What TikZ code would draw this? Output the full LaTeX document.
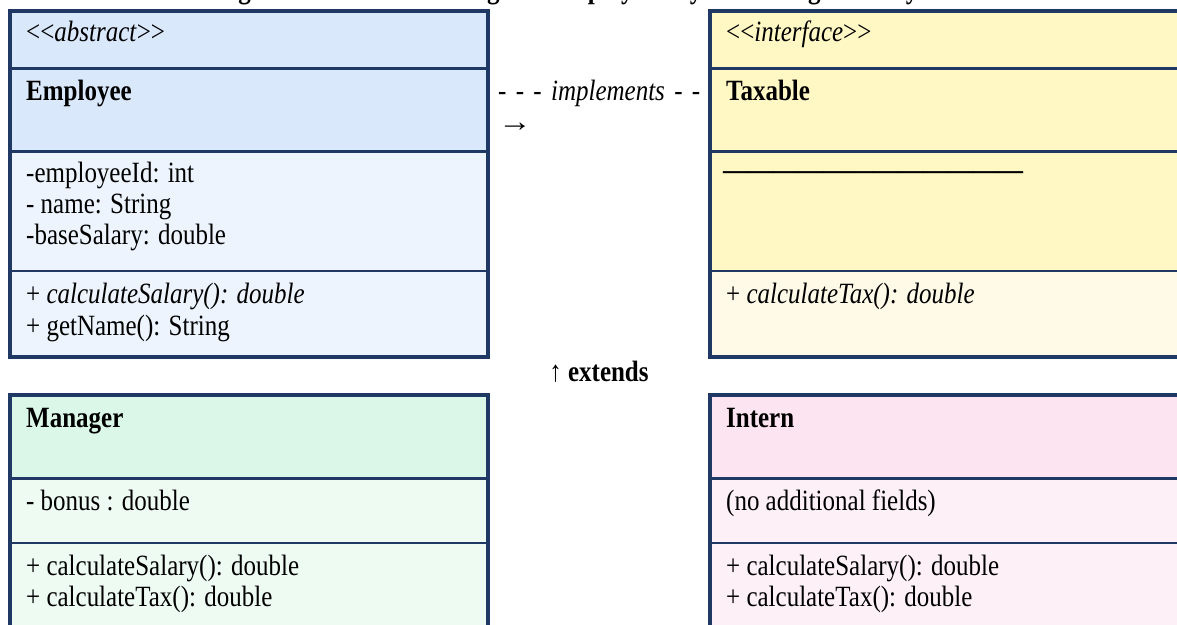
\documentclass[tikz,border=0pt]{standalone}
\usepackage{fontspec}
\setmainfont{Liberation Serif}[Ligatures=TeXOff,FakeStretch=0.85]
\usepackage{tikz}
\tikzset{
  >=latex,
}
\definecolor{frame}{HTML}{1F3864}
\definecolor{bluehead}{HTML}{DAE8FC}
\definecolor{bluebody}{HTML}{EDF4FE}
\definecolor{yellowhead}{HTML}{FFF8C4}
\definecolor{yellowbody}{HTML}{FEFAE7}
\definecolor{greenhead}{HTML}{DAF7E7}
\definecolor{greenbody}{HTML}{EEFBF3}
\definecolor{pinkhead}{HTML}{FCE4F0}
\definecolor{pinkbody}{HTML}{FDF0F6}
\tikzstyle{every node}=[font=\fontsize{29.4}{31.5}\selectfont]
\tikzstyle{txt}=[anchor=base west,inner sep=0pt]
\tikzstyle{outer}=[draw=frame,line width=4pt]
\tikzstyle{headrule}=[draw=frame,line width=3pt]
\tikzstyle{bodyrule}=[draw=frame,line width=1.5pt]

\begin{document}
\begin{tikzpicture}[x=1pt,y=-1pt]
    \useasboundingbox (0,0) rectangle (1177,624);
    \clip (0,0) rectangle (1177,624);
    \node[txt,font=\fontsize{29.4}{31.5}\selectfont\bfseries] (title) at (216,-1.5)
      {Figure 1: UML Class Diagram Employee Payroll Management System};
    \fill[bluehead] (10,10.5) rectangle (488,151);
    \fill[bluebody] (10,151) rectangle (488,357);
    \draw[headrule] (10,68)--(488,68);
    \draw[headrule] (10,151)--(488,151);
    \draw[bodyrule] (10,271)--(488,271);
    \draw[outer] (10,10.5) rectangle (488,357);
    \node[txt] (empstereo) at (26,41) {<<\textit{abstract}>>};
    \node[txt] (empname) at (26,100) {\textbf{Employee}};
    \node[txt] (empid) at (26,182) {-employeeId: int};
    \node[txt] (empnm) at (26,213) {- name: String};
    \node[txt] (empsal) at (26,244) {-baseSalary: double};
    \node[txt] (empcalc) at (26,303) {+ \textit{calculateSalary(): double}};
    \node[txt] (empget) at (26,335) {+ getName(): String};
    \fill[yellowhead] (710,10.5) rectangle (1190,271);
    \fill[yellowbody] (710,271) rectangle (1190,357);
    \draw[headrule] (710,68)--(1190,68);
    \draw[headrule] (710,151)--(1190,151);
    \draw[bodyrule] (710,271)--(1190,271);
    \draw[outer] (710,10.5) rectangle (1190,357);
    \node[txt] (taxstereo) at (726,41) {<<\textit{interface}>>};
    \node[txt] (taxname) at (726,100) {\textbf{Taxable}};
    \node[txt] (taxnone) at (723,179) {\textbf{————————————}};
    \node[txt] (taxcalc) at (726,303) {+ \textit{calculateTax(): double}};
    \node[txt] (impl) at (498,100) {\makebox[202pt][s]{- - - \textit{implements} - -}};
    \node[txt] (implarrow) at (498,131) {\scalebox{1.35}[1]{→}};
    \node[anchor=base,inner sep=0pt,font=\fontsize{29.4}{31.5}\selectfont\bfseries] (ext) at (599,381) {↑ extends};
    \fill[greenhead] (10,394.5) rectangle (488,478);
    \fill[greenbody] (10,478) rectangle (488,640);
    \draw[headrule] (10,478)--(488,478);
    \draw[bodyrule] (10,543)--(488,543);
    \draw[outer] (10,394.5) rectangle (488,640);
    \node[txt] (mgrname) at (26,427) {\textbf{Manager}};
    \node[txt] (mgrbonus) at (26,510) {- bonus : double};
    \node[txt] (mgrcalc) at (26,575) {+ calculateSalary(): double};
    \node[txt] (mgrtax) at (26,606) {+ calculateTax(): double};
    \fill[pinkhead] (710,394.5) rectangle (1190,478);
    \fill[pinkbody] (710,478) rectangle (1190,640);
    \draw[headrule] (710,478)--(1190,478);
    \draw[bodyrule] (710,543)--(1190,543);
    \draw[outer] (710,394.5) rectangle (1190,640);
    \node[txt] (intname) at (726,427) {\textbf{Intern}};
    \node[txt] (intnone) at (726,510) {(no additional fields)};
    \node[txt] (intcalc) at (726,575) {+ calculateSalary(): double};
    \node[txt] (inttax) at (726,606) {+ calculateTax(): double};
\end{tikzpicture}
\end{document}
